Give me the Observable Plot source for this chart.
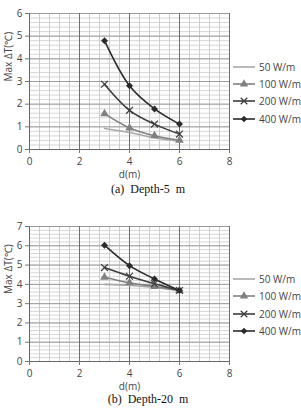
<!DOCTYPE html>
<html><head><meta charset="utf-8">
<script src="https://cdn.jsdelivr.net/npm/d3@7"></script>
<script src="https://cdn.jsdelivr.net/npm/@observablehq/plot@0.6"></script>
<style>
body{margin:0;background:#fff;width:301px;height:413px;overflow:hidden;position:relative;font-family:"Open Sans",sans-serif}
.panel{position:absolute;left:0;width:301px}
.cap{position:absolute;left:0;width:296px;text-align:center;font-family:"Liberation Serif","Times New Roman",serif;font-size:12px;line-height:16px;white-space:pre;color:#111}
.legend{position:absolute;left:233px;font-size:10px;color:#444;font-family:"Open Sans",sans-serif}
.legend .it{height:17.3px;display:flex;align-items:center}
.legend svg{margin-right:2px}
</style></head><body>
<script>
// ---- data ----
const distances = [3, 4, 5, 6];
const seriesNames = ["50 W/m", "100 W/m", "200 W/m", "400 W/m"];
const xTicks = [0, 2, 4, 6, 8];
const xLabel = "d(m)";
const yLabel = "Max ΔT(℃)";
// Depth-5 m
const depth5_50  = [0.93, 0.75, 0.52, 0.36];
const depth5_100 = [1.58, 0.95, 0.61, 0.41];
const depth5_200 = [2.88, 1.73, 1.12, 0.68];
const depth5_400 = [4.80, 2.81, 1.79, 1.12];
const yTicks5 = [0, 1, 2, 3, 4, 5, 6];
// Depth-20 m
const depth20_50  = [4.00, 3.95, 3.84, 3.68];
const depth20_100 = [4.37, 4.08, 3.89, 3.68];
const depth20_200 = [4.87, 4.42, 4.03, 3.68];
const depth20_400 = [6.03, 4.97, 4.28, 3.68];
const yTicks20 = [0, 1, 2, 3, 4, 5, 6, 7];

const colors = ["#a8a8a8", "#808080", "#3c3c3c", "#2b2b2b"];
const symbols = [null, "triangle", "times", "diamond"];

function table(series) {
  const rows = [];
  series.forEach((vals, i) => distances.forEach((d, j) => rows.push({series: seriesNames[i], d, v: vals[j]})));
  return rows;
}

function chart(series, yTicks, top, height, mt, mb) {
  const data = table(series);
  const yMax = yTicks[yTicks.length - 1];
  const minorY = d3.range(0, yMax * 5 + 1).map(k => k / 5);
  const minorX = d3.range(0, 8 * 2.5 + 1).map(k => k * 0.4);
  const svg = Plot.plot({
    width: 301, height,
    marginLeft: 29, marginRight: 72, marginTop: mt, marginBottom: mb,
    style: {fontFamily: '"Open Sans", sans-serif', fontSize: "10px", color: "#444", background: "transparent"},
    x: {domain: [0, 8]},
    y: {domain: [0, yMax]},
    color: {domain: seriesNames, range: colors},
    marks: [
      Plot.gridY({ticks: minorY, stroke: "#d6d6d6", strokeOpacity: 1}),
      Plot.gridX({ticks: minorX, stroke: "#cdcdcd", strokeOpacity: 1}),
      Plot.gridY({ticks: yTicks, stroke: "#9c9c9c", strokeOpacity: 1}),
      Plot.gridX({ticks: [2, 4, 6, 8], stroke: "#6e6e6e", strokeOpacity: 1}),
      Plot.ruleX([0], {stroke: "#666"}),
      Plot.ruleY([0], {stroke: "#666"}),
      Plot.axisX({ticks: xTicks, tickSize: 4, tickPadding: 4, tickFormat: d => d, label: null, stroke: "#777"}),
      Plot.axisY({ticks: yTicks, tickSize: 4, tickPadding: 3, tickFormat: d => d, label: null, stroke: "#777"}),
      Plot.text([xLabel], {frameAnchor: "bottom", lineAnchor: "middle", dy: 25.5, text: d => d, fill: "#444", fontSize: 10}),
      Plot.text([yLabel], {frameAnchor: "left", lineAnchor: "middle", dx: -21, rotate: -90, text: d => d, fill: "#444", fontSize: 10}),
      Plot.line(data, {x: "d", y: "v", z: "series", stroke: "series", curve: "catmull-rom", strokeWidth: 1.6}),
      Plot.dot(data.filter(r => r.series === "100 W/m"), {x: "d", y: "v", symbol: () => "triangle", fill: "series", r: 3.2}),
      Plot.dot(data.filter(r => r.series === "200 W/m"), {x: "d", y: "v", symbol: () => "times", stroke: "series", r: 3.2, strokeWidth: 1.2}),
      Plot.dot(data.filter(r => r.series === "400 W/m"), {x: "d", y: "v", symbol: () => "square", rotate: 45, fill: "series", r: 2.8})
    ]
  });
  svg.classList.add("panel");
  svg.style.top = top + "px";
  document.body.appendChild(svg);
}

function legend(top) {
  const div = document.createElement("div");
  div.className = "legend";
  div.style.top = top + "px";
  seriesNames.forEach((name, i) => {
    const it = document.createElement("div");
    it.className = "it";
    const s = d3.create("svg").attr("width", 24).attr("height", 10);
    s.append("line").attr("x1", 0).attr("x2", 22).attr("y1", 5).attr("y2", 5).attr("stroke", colors[i]).attr("stroke-width", 1.6);
    if (symbols[i]) {
      const sym = {triangle: d3.symbolTriangle, times: d3.symbolTimes, diamond: d3.symbolSquare}[symbols[i]];
      const p = s.append("path").attr("transform", "translate(11,5)" + (symbols[i] === "diamond" ? " rotate(45)" : "")).attr("d", d3.symbol(sym, symbols[i] === "diamond" ? 22 : 30)());
      if (symbols[i] === "times") p.attr("fill", "none").attr("stroke", colors[i]).attr("stroke-width", 1.2);
      else p.attr("fill", colors[i]);
    }
    it.appendChild(s.node());
    const t = document.createElement("span");
    t.textContent = name;
    it.appendChild(t);
    div.appendChild(it);
  });
  document.body.appendChild(div);
}

function caption(text, top) {
  const c = document.createElement("div");
  c.className = "cap";
  c.style.top = top + "px";
  c.textContent = text;
  document.body.appendChild(c);
}

chart([depth5_50, depth5_100, depth5_200, depth5_400], yTicks5, 0, 184, 13, 35);
legend(58);
caption("(a)  Depth-5  m", 181);
chart([depth20_50, depth20_100, depth20_200, depth20_400], yTicks20, 210, 184, 16, 33);
legend(270.5);
caption("(b)  Depth-20  m", 391);
</script>
</body></html>
